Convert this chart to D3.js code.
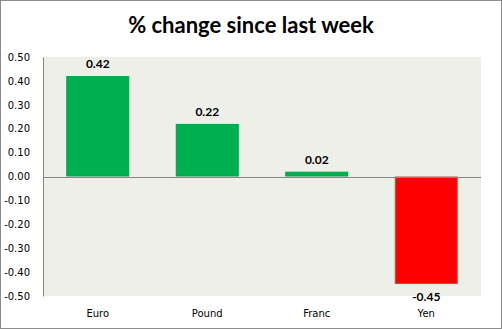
<!DOCTYPE html>
<html><head><meta charset="utf-8">
<script src="https://cdn.jsdelivr.net/npm/d3@7"></script>
<style>html,body{margin:0;padding:0;background:#fff;}svg{display:block;}</style>
</head><body>
<script>
const categories = ["Euro", "Pound", "Franc", "Yen"];
const values = [0.42, 0.22, 0.02, -0.45];
const tickValues = [0.5, 0.4, 0.3, 0.2, 0.1, 0, -0.1, -0.2, -0.3, -0.4, -0.5];
const title = "% change since last week";

const W = 502, H = 329;
const m = {left: 43, right: 21, top: 57, bottom: 33};
const fmt = d3.formatLocale({decimal: ".", thousands: ",", grouping: [3], currency: ["", ""], minus: "-"}).format(".2f");
const svg = d3.select("body").append("svg").attr("width", W).attr("height", H);
svg.append("rect").attr("x", 0.5).attr("y", 0.5).attr("width", W - 1).attr("height", H - 1)
  .attr("fill", "#fff").attr("stroke", "#8c8c8c");

const x = d3.scaleBand().domain(categories).range([m.left, W - m.right]).paddingInner(0.425).paddingOuter(0.2125);
const y = d3.scaleLinear().domain([-0.5, 0.5]).range([H - m.bottom, m.top]);

svg.append("rect").attr("x", m.left).attr("y", m.top).attr("width", W - m.right - m.left)
  .attr("height", H - m.bottom - m.top).attr("fill", "#eeefe8");

svg.append("text").attr("x", 251).attr("y", 33).attr("text-anchor", "middle")
  .attr("font-family", "Lato, 'Open Sans', sans-serif").attr("font-weight", "bold").attr("font-size", 22)
  .attr("fill", "#000").text(title);

// y axis
const yAxis = d3.axisLeft(y).tickValues(tickValues).tickFormat(fmt).tickSize(0).tickPadding(13);
const gy = svg.append("g").attr("transform", `translate(${m.left},0)`).call(yAxis);
gy.select(".domain").attr("stroke", "#868686");
gy.selectAll("text").attr("font-family", "'DejaVu Sans', sans-serif").attr("font-size", 10).attr("fill", "#000");

// bars
svg.selectAll("rect.bar").data(values).enter().append("rect").attr("class", "bar")
  .attr("x", (d, i) => x(categories[i]) + 0.5)
  .attr("y", d => Math.min(y(d), y(0)) + 0.5)
  .attr("width", x.bandwidth() - 1)
  .attr("height", d => Math.max(Math.abs(y(d) - y(0)) - 1, 1))
  .attr("fill", d => d >= 0 ? "#00b050" : "#ff0000")
  .attr("stroke", d => d >= 0 ? "#00a048" : "#b0553a").attr("stroke-width", 1);

// zero line
svg.append("line").attr("x1", m.left).attr("x2", W - m.right).attr("y1", Math.round(y(0)) + 0.5).attr("y2", Math.round(y(0)) + 0.5)
  .attr("stroke", "#868686");

// data labels
svg.selectAll("text.lbl").data(values).enter().append("text").attr("class", "lbl")
  .attr("x", (d, i) => x(categories[i]) + x.bandwidth() / 2)
  .attr("y", d => d >= 0 ? y(d) - 8 : y(d) + 17)
  .attr("text-anchor", "middle")
  .attr("font-family", "Lato, sans-serif").attr("font-weight", "bold").attr("font-size", 12)
  .attr("fill", "#000").text(d => fmt(d));

// category labels
svg.selectAll("text.cat").data(categories).enter().append("text").attr("class", "cat")
  .attr("x", d => x(d) + x.bandwidth() / 2).attr("y", 317)
  .attr("text-anchor", "middle")
  .attr("font-family", "'DejaVu Sans', sans-serif").attr("font-size", 10)
  .attr("fill", "#000").text(d => d);
</script>
</body></html>
